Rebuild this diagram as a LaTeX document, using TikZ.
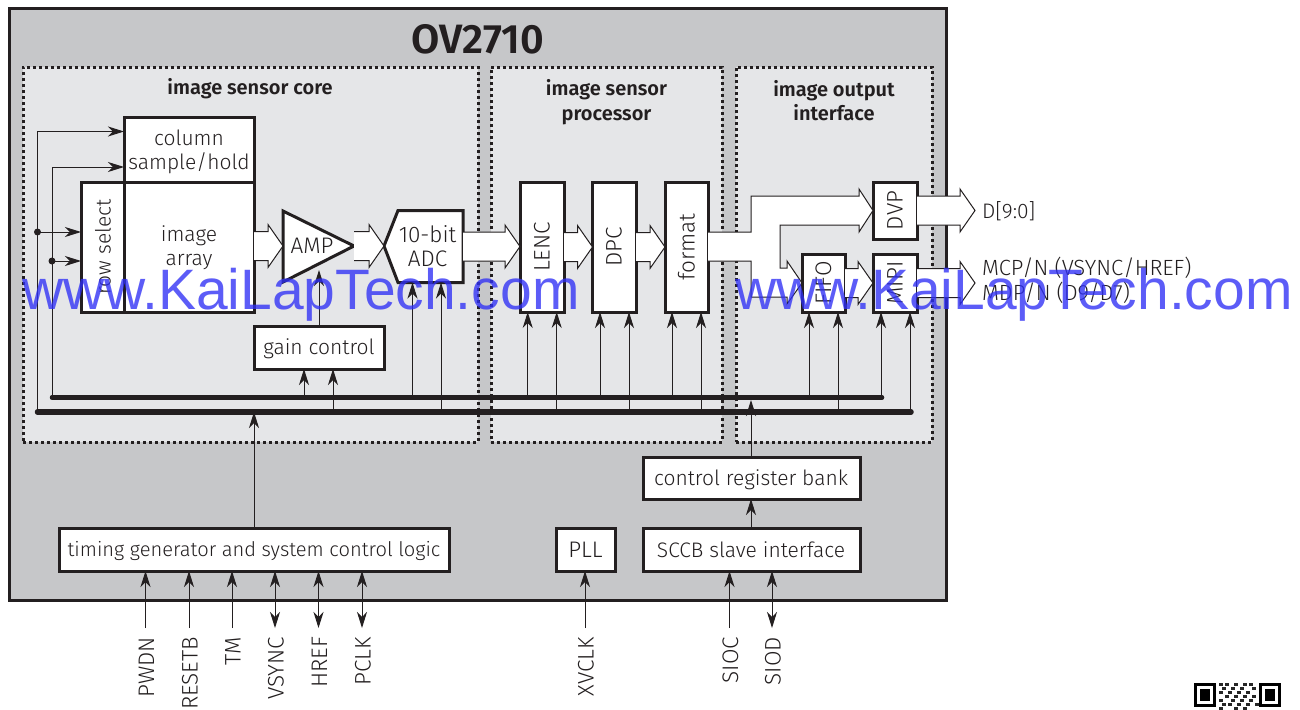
\documentclass[tikz,border=0pt]{standalone}
\usepackage{fontspec}
\setmainfont{Fira Sans Light}[BoldFont={Fira Sans SemiBold}]
\newfontfamily\wmfont{Liberation Sans}
\usetikzlibrary{arrows.meta,calc}
\definecolor{outerfill}{HTML}{C6C7C9}
\definecolor{panelfill}{HTML}{E5E6E8}
\definecolor{ink}{HTML}{231F20}
\definecolor{wmblue}{HTML}{2F2FF5}
\tikzset{
  x=1pt,y=-1pt,
  every node/.style={text=ink,font=\fontsize{21}{24}\selectfont,inner sep=0pt,outer sep=0pt},
  caps/.style={font=\fontsize{22.5}{24}\selectfont},
  panel/.style={fill=panelfill,draw=ink,line width=3pt,dash pattern=on 3pt off 3pt},
  box/.style={draw=ink,fill=white,line width=3pt,align=center,line join=miter},
  heading/.style={font=\fontsize{20}{24.5}\selectfont\bfseries,align=center},
  sig/.style={draw=ink,line width=1pt,-{Stealth[length=16pt,width=10pt,inset=5pt]}},
  sigboth/.style={draw=ink,line width=1pt,{Stealth[length=16pt,width=10pt,inset=5pt]}-{Stealth[length=16pt,width=10pt,inset=5pt]}},
  busline/.style={draw=ink,line cap=round},
  blockar/.style={draw=ink,fill=white,line width=1pt,line join=miter},
  pin/.style={rotate=90,anchor=east,caps},
  dot/.style={circle,fill=ink,minimum size=7pt},
  watermark/.style={text=wmblue,text opacity=0.78,font=\fontsize{57}{60}\selectfont\wmfont,anchor=base west},
}
\newcommand{\boxat}[5]{\node[box,minimum width=#4-#2,minimum height=#5-#3] (#1) at ({(#2+#4)/2},{(#3+#5)/2}) {}}
% from the east side of #1 to the tip #2
\newcommand{\blockarrow}[2]{%
  \draw[blockar] let \p1=(#1), \p2=(#2) in
    (\x1,\y2+14.5pt) -- (\x2-15pt,\y2+14.5pt) -- (\x2-15pt,\y2+21.5pt) -- (\x2,\y2)
    -- (\x2-15pt,\y2-21.5pt) -- (\x2-15pt,\y2-14.5pt) -- (\x1,\y2-14.5pt);}
\begin{document}
\begin{tikzpicture}
\useasboundingbox (0,0) rectangle (1300,709);
\fill[white] (0,0) rectangle (1300,709);
% frame and panels
\node[draw=ink,fill=outerfill,line width=3pt,minimum width=937pt,minimum height=591pt] (chip) at (477.5,304.5) {};
\node[font=\fontsize{41}{44}\selectfont\bfseries] (title) at (477.5,39) {OV2710};
\node[panel,minimum width=455pt,minimum height=375pt] (core) at (250.5,254.5) {};
\node[panel,minimum width=231pt,minimum height=375pt] (proc) at (606.5,254.5) {};
\node[panel,minimum width=196pt,minimum height=375pt] (outp) at (834,254.5) {};
\node[heading] (coreh) at (250,89) {image sensor core};
\node[heading] (proch) at (606.5,102) {image sensor\\processor};
\node[heading] (outph) at (834,100.5) {image output\\interface};
% blocks
\boxat{col}{124}{117}{254}{182};
\node[align=center] (colt) at (189,152) {column\\sample/hold};
\boxat{rowsel}{81}{182}{124}{312};
\node[rotate=90] (rowselt) at (103,247) {row select};
\boxat{img}{124}{182}{254}{312};
\node[align=center] (imgt) at (189,247.5) {image\\array};
\boxat{gain}{254}{326}{384}{369};
\node (gaint) at (319,349) {gain control};
\coordinate (ampin) at (283,246);
\coordinate (ampout) at (354,246);
\coordinate (adcin) at (384,246);
\coordinate (adcout) at (463,246);
\draw[box] (283,211) -- (ampout) -- (283,282) -- cycle;
\node[caps] (amp) at (312,246) {AMP};
\draw[box] (adcin) -- (398,210.5) -- (463,210.5) -- (463,282.5) -- (398,282.5) -- cycle;
\node[align=center,caps] (adc) at (427.5,246) {10-bit\\ADC};
\boxat{lenc}{520}{182}{564}{312};
\node[rotate=90,caps] (lenct) at (542,247) {LENC};
\boxat{dpc}{592.5}{182}{636}{312};
\node[rotate=90,caps] (dpct) at (614,247) {DPC};
\boxat{fmt}{665}{182}{708}{312};
\node[rotate=90,caps] (fmtt) at (686.5,247) {format};
\boxat{dvp}{873}{182}{917}{239};
\node[rotate=90,caps] (dvpt) at (895,210.5) {DVP};
\boxat{fifo}{802}{254}{845}{312};
\node[rotate=90,caps] (fifot) at (823.5,283) {FIFO};
\boxat{mipi}{873}{254}{917}{312};
\node[rotate=90,caps] (mipit) at (895,283) {MIPI};
\boxat{bank}{643}{457}{860}{499};
\node (bankt) at (751,479.5) {control register bank};
\boxat{sccb}{643}{528}{860}{571};
\node (sccbt) at (751,550) {SCCB slave interface};
\boxat{pll}{556}{528}{615}{571};
\node[caps] (pllt) at (585.5,550) {PLL};
\boxat{timing}{59}{528}{449}{571};
\node[font=\fontsize{20.1}{24}\selectfont] (timingt) at (254,551) {timing generator and system control logic};
% block arrows
\blockarrow{img.east}{ampin}
\blockarrow{ampout}{adcin}
\blockarrow{adcout}{$(lenc.north west)!0.4962!(lenc.south west)$}
\blockarrow{lenc.east}{$(dpc.north west)!0.5!(dpc.south west)$}
\blockarrow{dpc.east}{$(fmt.north west)!0.5!(fmt.south west)$}
\blockarrow{fifo.east}{mipi.west}
\coordinate (dvptip) at (975,210.5);
\coordinate (mipitip) at (975,283);
\blockarrow{dvp.east}{dvptip}
\blockarrow{mipi.east}{mipitip}
\draw[blockar] (fmt.east |- 0,232) -- (751,232) -- (751,196) -- (859,196) -- (859,189) -- (dvp.west)
  -- (859,232) -- (859,225) -- (780,225) -- (780,268) -- (787,268) -- (787,261) -- (fifo.west)
  -- (787,304) -- (787,297) -- (751,297) -- (751,261) -- (fmt.east |- 0,261);
% outputs text
\node[anchor=west] (dout) at (982,211) {D[9:0]};
\node[anchor=west,font=\fontsize{22}{24}\selectfont] (mcp) at (982,268) {MCP/N (VSYNC/HREF)};
\node[anchor=west,font=\fontsize{22}{24}\selectfont] (mdp) at (982,293) {MDP/N (D9/D7)};
% buses
\coordinate (busA) at (52,397.5);
\coordinate (busB) at (37.5,412);
\draw[busline,line width=4.5pt] (busA) -- (882,397.5);
\draw[busline,line width=5.5pt] (busB) -- (911,412);
% signals to column and row
\draw[sig] (busB) -- (busB |- 0,131.5) -- (col.west |- 0,131.5);
\draw[sig] (busA) -- (busA |- 0,167) -- (col.west |- 0,167);
\node[dot] (d1) at (37.5,232) {};
\node[dot] (d2) at (52,261) {};
\draw[sig] (d1.center) -- (rowsel.west |- d1);
\draw[sig] (d2.center) -- (rowsel.west |- d2);
% control inputs
\draw[sig] (304,397.5) -- (304,369);
\draw[sig] (333,412) -- (333,369);
\draw[sig] (gain.north -| ampin) ++(36,0) -- ++(0,-56);
\draw[sig] (412.5,397.5) -- (412.5,282.5);
\draw[sig] (441,412) -- (441,282.5);
\draw[sig] (527.7,397.5) -- (lenc.south -| 527.7,0);
\draw[sig] (556.7,412) -- (lenc.south -| 556.7,0);
\draw[sig] (600,397.5) -- (dpc.south -| 600,0);
\draw[sig] (629,412) -- (dpc.south -| 629,0);
\draw[sig] (672,397.5) -- (fmt.south -| 672,0);
\draw[sig] (701,412) -- (fmt.south -| 701,0);
\draw[sig] (809,397.5) -- (fifo.south -| 809,0);
\draw[sig] (838,412) -- (fifo.south -| 838,0);
\draw[sig] (881,397.5) -- (mipi.south -| 881,0);
\draw[sig] (910,412) -- (mipi.south -| 910,0);
\draw[sig] (timing.north -| 254,0) -- (254,412);
\draw[sig] (bank.north -| 751,0) -- (751,400);
\draw[sig] (sccb.north -| 751,0) -- (bank.south -| 751,0);
% pins
\foreach \nm/\px/\txt/\st in {pa/145.5/PWDN/sig,pb/189/RESETB/sig,pc/232/TM/sig,pd/275/VSYNC/sigboth,pe/318.5/HREF/sigboth,pf/362/PCLK/sigboth}{
  \node[pin] (\nm) at (\px+1,637) {\txt};
  \draw[\st] (\px,628) -- (timing.south -| \px,0);
}
\node[pin] (pg) at (586,637) {XVCLK};
\draw[sig] (585,628) -- (pll.south -| 585,0);
\node[pin] (ph) at (730.5,637) {SIOC};
\draw[sig] (729.5,628) -- (sccb.south -| 729.5,0);
\node[pin] (pi) at (773,637) {SIOD};
\draw[sigboth] (772,628) -- (sccb.south -| 772,0);
% QR fragment
\begin{scope}
\clip (1183,672) rectangle (1291,709);
\fill[black] (1194,683) rectangle (1216,707);
\fill[white] (1197,686) rectangle (1213,704);
\fill[black] (1200,689) rectangle (1210,701);
\fill[black] (1259,683) rectangle (1281,707);
\fill[white] (1262,686) rectangle (1278,704);
\fill[black] (1265,689) rectangle (1275,701);
\foreach \qx/\qy in {1219/683,1225/683,1234/683,1243/683,1249/683,1222/687,1231/687,1240/687,1252/687,1219/691,1228/691,1237/691,1246/691,1225/695,1234/695,1243/695,1252/695,1219/699,1231/699,1240/699,1249/699,1222/703,1228/703,1237/703,1246/703,1255/703,1219/707,1234/707,1243/707}
  \fill[black!85] (\qx,\qy) rectangle ++(4,3);
\end{scope}
% watermarks
\node[watermark] (wma) at (22,309) {www.KaiLapTech.com};
\node[watermark] (wmb) at (735,309) {www.KaiLapTech.com};
\end{tikzpicture}
\end{document}
